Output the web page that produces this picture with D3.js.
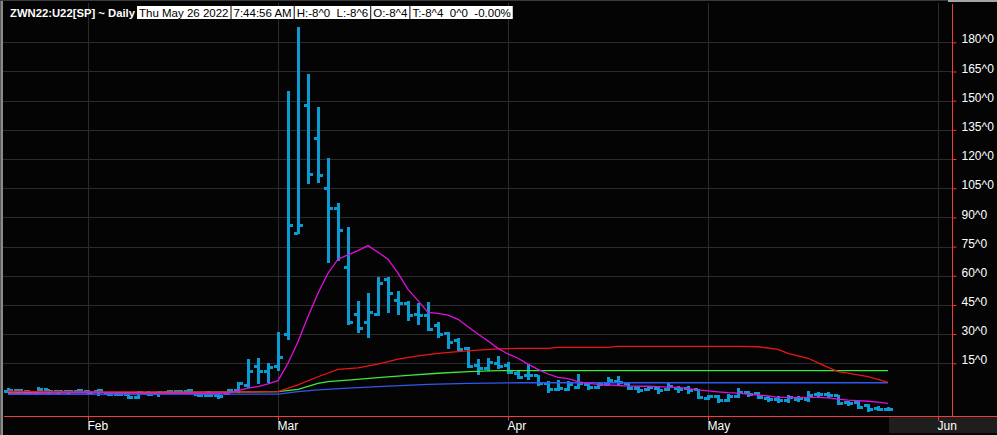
<!DOCTYPE html>
<html>
<head>
<meta charset="utf-8">
<script src="https://cdn.jsdelivr.net/npm/d3@7/dist/d3.min.js"></script>
<style>
  html, body { margin: 0; padding: 0; background: #000; }
  svg { display: block; }
  text { font-family: "Liberation Sans", Arial, sans-serif; }
</style>
</head>
<body>
<svg id="chart" width="997" height="435"></svg>
<script>
// header
var title = "ZWN22:U22[SP] ~ Daily";
var infoBoxes = ["Thu May 26 2022", "7:44:56 AM", "H:-8^0  L:-8^6", "O:-8^4", "T:-8^4  0^0  -0.00%"];

// month ticks: bar index (trading day) where each month starts
var monthLabels = ["Feb", "Mar", "Apr", "May", "Jun"];
var monthIndex = [8, 27, 50, 70, 93];

var priceTicks = [15, 30, 45, 60, 75, 90, 105, 120, 135, 150, 165, 180];
var priceLabels = ["15^0", "30^0", "45^0", "60^0", "75^0", "90^0", "105^0", "120^0", "135^0", "150^0", "165^0", "180^0"];

// daily OHLC bars, Jan 20 .. May 26 2022
var opens = [0.5, 1.2, 0.6, 0.2, 1.3, 0.6, 0.3, 0.6, 0.6, 0.4, -0.6, -1.0, -1.2, -2.5, -0.4, -0.6, -0.2, 0.6, 0.7, -1.0, -1.5, -1.7, -0.5, 0.8, 3.5, 13.6, 11.0,
  13.3, 30.0, 81.8, 147.6, 130.3, 105.0, 94.7, 64.4, 40.2, 36.1, 40.2, 58.3, 47.5, 45.5, 40.2, 39.8, 34.2, 30.4, 26.6, 22.4, 13.8, 12.4, 15.0,
  14.0, 9.9, 8.5, 8.6, 4.4, 1.6, 1.6, 2.7, 4.2, 2.7, 3.9, 5.6, 4.7, 2.2, 1.6, 2.2, 1.6, 2.2, 2.2, 1.3,
  -3.0, -2.2, -3.9, -2.2, -0.1, -0.4, -3.0, -3.5, -4.2, -3.5, -3.5, -0.8, -0.8, -1.8, -5.2, -5.2, -6.9, -8.1, -8.5];
var highs = [1.6, 1.4, 0.8, 2.2, 1.4, 0.9, 0.7, 1.3, 0.9, 1.4, -0.5, -0.6, -1.0, 0.0, 0.0, 0.1, 0.8, 0.8, 1.3, -0.6, 0.0, -1.0, 1.3, 4.7, 16.7, 17.2, 14.6,
  30.4, 154.3, 187.2, 163.2, 146.1, 119.9, 96.9, 84.4, 46.7, 50.6, 58.7, 58.7, 51.5, 46.7, 45.5, 45.8, 35.9, 30.7, 27.3, 22.7, 16.7, 17.1, 18.4,
  15.0, 10.7, 14.1, 8.6, 5.6, 6.1, 5.2, 9.0, 4.7, 4.4, 7.3, 7.8, 4.7, 3.0, 3.0, 2.2, 4.4, 3.0, 3.0, 1.3,
  -1.8, -1.8, -1.3, 1.6, 0.4, -0.1, -2.2, -2.5, -1.8, -2.2, 0.4, -0.1, -0.4, -1.8, -4.7, -4.7, -6.4, -7.6, -8.0];
var lows = [0.3, 0.4, -0.5, 0.1, -0.1, -0.4, -0.4, 0.0, -0.4, -1.2, -1.4, -1.4, -2.8, -2.8, -1.3, -1.6, -0.4, -0.4, -0.3, -1.9, -2.0, -2.8, -1.0, 0.4, 3.0, 5.0, 5.6,
  11.6, 27.3, 81.8, 107.8, 108.4, 67.2, 68.1, 35.2, 31.3, 28.4, 39.8, 41.5, 40.2, 37.3, 35.2, 32.1, 28.7, 22.7, 21.8, 13.0, 9.5, 11.6, 12.4,
  9.9, 7.3, 6.8, 3.9, 0.4, 1.3, 1.3, 2.5, 1.6, 2.2, 3.9, 3.9, 1.6, 0.4, 1.3, -0.1, 1.3, 0.4, -0.1, -3.0,
  -3.5, -4.7, -4.2, -2.5, -1.8, -3.0, -4.2, -4.7, -4.7, -4.2, -4.2, -1.8, -2.2, -5.9, -6.4, -8.1, -9.3, -9.0, -8.75];
var closes = [1.2, 0.8, 0.2, 1.5, 0.6, 0.3, 0.6, 0.9, 0.2, 0.9, -1.0, -1.1, -2.5, -0.2, -0.9, -0.2, 0.6, 0.7, 1.0, -1.5, -1.6, -2.2, 1.0, 4.5, 11.0, 11.0, 12.7,
  18.1, 85.6, 85.6, 112.1, 111.3, 94.7, 83.5, 35.9, 33.0, 41.2, 55.8, 51.0, 45.5, 39.8, 39.8, 32.5, 29.6, 25.8, 22.2, 13.3, 12.4, 15.3, 13.3,
  10.5, 7.8, 8.6, 4.4, 1.3, 1.8, 3.9, 4.4, 2.7, 3.9, 6.1, 4.9, 2.2, 0.9, 2.7, 0.9, 3.0, 1.3, 0.9, -2.5,
  -2.2, -4.2, -2.2, -0.1, -0.8, -2.5, -3.5, -4.2, -2.5, -3.0, -1.3, -0.8, -1.3, -5.6, -5.6, -7.6, -8.6, -8.6, -8.5];

// study lines, [bar index, value]
var pinkLine = [[0, -0.6], [4, -0.2], [8, 0.2], [12, -0.3], [16, -0.5], [20, -0.4], [22, -0.3], [23, 0.9], [24, 2.2], [25, 3.0], [26, 4.4],
  [27, 6.1], [28, 15], [29, 26.1], [30, 39], [31, 51], [32, 61.3], [33, 68.5], [34, 70.7], [35, 72.9], [36, 75.5], [37, 72.1], [38, 68.5],
  [39, 61.3], [40, 53], [41, 47.2], [42, 41.2], [43, 40.7], [44, 39.8], [45, 37.6], [46, 33.8], [47, 30.1], [48, 26.5], [49, 22.7],
  [50, 19.8], [51, 17.6], [52, 14.6], [53, 11.9], [54, 9.5], [55, 7.8], [56, 7.1], [57, 5.6], [58, 4.7], [59, 4.2], [60, 3.9], [61, 3.6],
  [62, 3.3], [63, 3.2], [64, 3.2], [65, 3.0], [66, 2.8], [67, 2.6], [68, 2.0], [69, 1.3], [70, 0.8], [71, 0.3], [72, -0.1], [73, -0.3],
  [74, -0.8], [75, -1.3], [76, -1.8], [77, -2.5], [78, -2.5], [79, -2.6], [80, -2.5], [81, -2.5], [82, -2.8], [83, -3.4], [84, -3.9],
  [85, -4.2], [86, -4.5], [87, -4.9], [88, -5.6]];
var redLine = [[0, 0.5], [10, 0.3], [20, 0.2], [27, 0.4], [29, 3.9], [31, 8.1], [33, 11.9], [35, 12.7], [37, 14.6], [39, 17.1], [41, 18.8],
  [43, 20.1], [45, 21.0], [47, 21.8], [49, 22.4], [51, 22.7], [54, 22.7], [55, 23.2], [60, 23.2], [61, 23.7], [73, 23.7], [75, 23.5],
  [77, 22.2], [78, 20.1], [80, 17.6], [81.5, 14.1], [83, 10.7], [84, 9.9], [86, 8.1], [87, 6.8], [88, 5.2]];
var greenLine = [[0, -0.2], [27, 0.4], [29, 1.6], [31, 4.7], [32, 5.6], [34, 6.4], [37, 7.6], [40, 8.8], [43, 9.9], [46, 10.7], [49, 11.2], [88, 11.2]];
var blueLine = [[0, -0.9], [27, -0.8], [29, 0.4], [31, 1.3], [34, 2.2], [37, 3.0], [42, 4.2], [46, 4.7], [51, 5.0], [88, 5.0]];

var svg = d3.select("#chart"),
    width = +svg.attr("width"),
    height = +svg.attr("height"),
    plotLeft = 3,
    plotRight = 951,
    plotTop = 3,
    plotBottom = 415;

var x = d3.scaleLinear().domain([-0.5, 98.9]).range([plotLeft, width]);
var y = d3.scaleLinear().domain([-11.57, 200]).range([plotBottom, 3.4]);

svg.append("rect").attr("width", width).attr("height", height).attr("fill", "#040404");

// grid
var grid = svg.append("g").attr("stroke", "#2b2b2b").attr("shape-rendering", "crispEdges");
grid.selectAll(".hgrid")
    .data(priceTicks)
  .enter().append("line")
    .attr("class", "hgrid")
    .attr("x1", plotLeft).attr("x2", plotRight)
    .attr("y1", function(d) { return Math.round(y(d)) + 0.5; })
    .attr("y2", function(d) { return Math.round(y(d)) + 0.5; });
grid.selectAll(".vgrid")
    .data(monthIndex)
  .enter().append("line")
    .attr("class", "vgrid")
    .attr("x1", function(d) { return Math.round(x(d)) + 0.5; })
    .attr("x2", function(d) { return Math.round(x(d)) + 0.5; })
    .attr("y1", plotTop).attr("y2", plotBottom);

// OHLC bars
var barColor = "#0b9ad2";
var bars = svg.append("g").attr("fill", barColor).attr("shape-rendering", "crispEdges")
  .selectAll("g")
    .data(d3.range(opens.length))
  .enter().append("g");

bars.append("rect")
    .attr("x", function(i) { return x(i) - 1.5; })
    .attr("width", 3)
    .attr("y", function(i) { return y(highs[i]) - 1; })
    .attr("height", function(i) { return Math.max(3, y(lows[i]) - y(highs[i]) + 2); });
bars.append("rect")
    .attr("x", function(i) { return x(i) - 4.5; })
    .attr("width", 4.5)
    .attr("y", function(i) { return y(opens[i]) - 1.5; })
    .attr("height", 3);
bars.append("rect")
    .attr("x", function(i) { return x(i); })
    .attr("width", 4.5)
    .attr("y", function(i) { return y(closes[i]) - 1.5; })
    .attr("height", 3);

// study lines
var line = d3.line()
    .x(function(d) { return x(d[0]); })
    .y(function(d) { return y(d[1]); });

var studies = [
  {data: blueLine, color: "#3157f2"},
  {data: greenLine, color: "#3ee83e"},
  {data: redLine, color: "#ee1414"},
  {data: pinkLine, color: "#e010e0"}
];
svg.append("g").selectAll("path")
    .data(studies)
  .enter().append("path")
    .attr("fill", "none")
    .attr("stroke", function(d) { return d.color; })
    .attr("stroke-width", 1.3)
    .attr("d", function(d) { return line(d.data); });

// shaded date box under last bar
svg.append("rect")
    .attr("x", Math.round(x(opens.length - 1)) + 1)
    .attr("y", plotBottom + 1)
    .attr("width", width - x(opens.length - 1))
    .attr("height", 17)
    .attr("fill", "#1e1e1e");

var axisRed = "#f23c3c";

var xAxis = svg.append("g")
    .attr("transform", "translate(0," + (plotBottom + 0.5) + ")")
    .call(d3.axisBottom(x)
      .tickValues(monthIndex)
      .tickFormat(function(d, i) { return monthLabels[i]; })
      .tickSize(5)
      .tickSizeOuter(0));
xAxis.select(".domain").attr("stroke", axisRed).attr("shape-rendering", "crispEdges");
xAxis.selectAll(".tick line").attr("stroke", axisRed);
xAxis.selectAll(".tick text")
    .attr("fill", "#fff")
    .attr("font-size", 12)
    .attr("font-family", "Liberation Sans, Arial, sans-serif")
    .attr("text-anchor", "start")
    .attr("x", -1)
    .attr("y", 6);

var yAxis = svg.append("g")
    .attr("transform", "translate(" + (plotRight + 0.5) + ",0)")
    .call(d3.axisRight(y)
      .tickValues(priceTicks)
      .tickFormat(function(d, i) { return priceLabels[i]; })
      .tickSize(5)
      .tickSizeOuter(0));
yAxis.select(".domain").attr("stroke", axisRed).attr("shape-rendering", "crispEdges");
yAxis.selectAll(".tick line").attr("stroke", axisRed);
yAxis.selectAll(".tick text")
    .attr("fill", "#fff")
    .attr("font-size", 12)
    .attr("font-family", "Liberation Sans, Arial, sans-serif")
    .attr("x", 10)
    .attr("dy", "0.05em");

// frame edges
svg.append("rect").attr("x", 0).attr("y", 0).attr("width", 3).attr("height", height).attr("fill", "#8a8a8a");
svg.append("rect").attr("x", 0).attr("y", 0).attr("width", 1).attr("height", height).attr("fill", "#5a5a5a");
svg.append("rect").attr("x", 0).attr("y", 0).attr("width", width).attr("height", 1).attr("fill", "#3a3a3a");
svg.append("rect").attr("x", 948).attr("y", 0).attr("width", width - 948).attr("height", 2).attr("fill", "#a4a4a4");

// header text
svg.append("text")
    .attr("x", 10)
    .attr("y", 17)
    .attr("fill", "#fff")
    .attr("font-size", 11.5)
    .attr("font-weight", "bold")
    .attr("textLength", 125)
    .attr("lengthAdjust", "spacingAndGlyphs")
    .text(title);

var hx = 137;
infoBoxes.forEach(function(s) {
  var box = svg.append("g");
  var r = box.append("rect").attr("fill", "#fff").attr("y", 6).attr("height", 13);
  var t = box.append("text")
      .attr("x", hx + 2)
      .attr("y", 17)
      .attr("fill", "#000")
      .attr("font-size", 11.5)
      .style("white-space", "pre")
      .text(s);
  var w = t.node().getComputedTextLength() + 4;
  r.attr("x", hx).attr("width", w);
  hx += w + 1;
});
</script>
</body>
</html>
